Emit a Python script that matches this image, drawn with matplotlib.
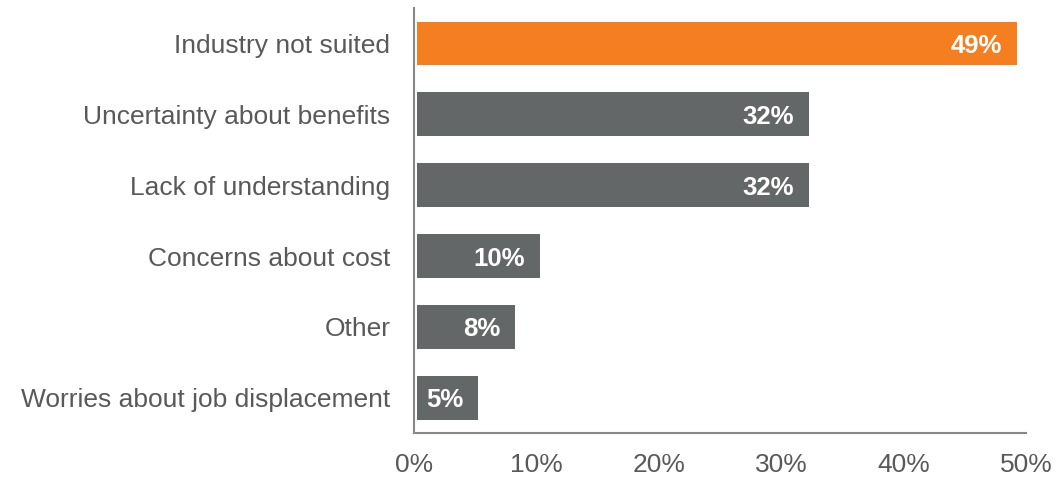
import matplotlib
matplotlib.use("Agg")
from matplotlib import pyplot as plt
from matplotlib.ticker import FuncFormatter

plt.rcParams['font.family'] = ['Liberation Sans', 'DejaVu Sans']

reasons = ["Industry not suited", "Uncertainty about benefits", "Lack of understanding",
           "Concerns about cost", "Other", "Worries about job displacement"]
shares = [49, 32, 32, 10, 8, 5]
bar_colors = ["#F47E20", "#646767", "#646767", "#646767", "#646767", "#646767"]
xticks = [0, 10, 20, 30, 40, 50]

text_gray = "#595959"
axis_gray = "#888888"

fig = plt.figure(figsize=(10.59, 4.78), dpi=100)
ax = fig.add_axes([0.391, 0.094, 0.578, 0.889])

pos = list(range(len(reasons)))
ax.barh(pos, shares, height=0.62, color=bar_colors, left=0.25)

for y, v in zip(pos, shares):
    ax.text(v + 0.25 - 1.2, y, f"{v}%", ha="right", va="center_baseline",
            color="white", fontweight="bold", fontsize=18.5)

ax.set_xlim(0, 50)
ax.set_ylim(5.5, -0.5)
ax.set_yticks(pos)
ax.set_yticklabels(reasons)
ax.set_xticks(xticks)
ax.xaxis.set_major_formatter(FuncFormatter(lambda v, p: f"{v:.0f}%"))

ax.tick_params(axis="both", length=0, labelsize=19, labelcolor=text_gray)
ax.tick_params(axis="y", pad=17)
ax.tick_params(axis="x", pad=14)

for s in ["top", "right"]:
    ax.spines[s].set_visible(False)
for s in ["left", "bottom"]:
    ax.spines[s].set_color(axis_gray)
    ax.spines[s].set_linewidth(1.5)

fig.savefig("out.png", dpi=100)
